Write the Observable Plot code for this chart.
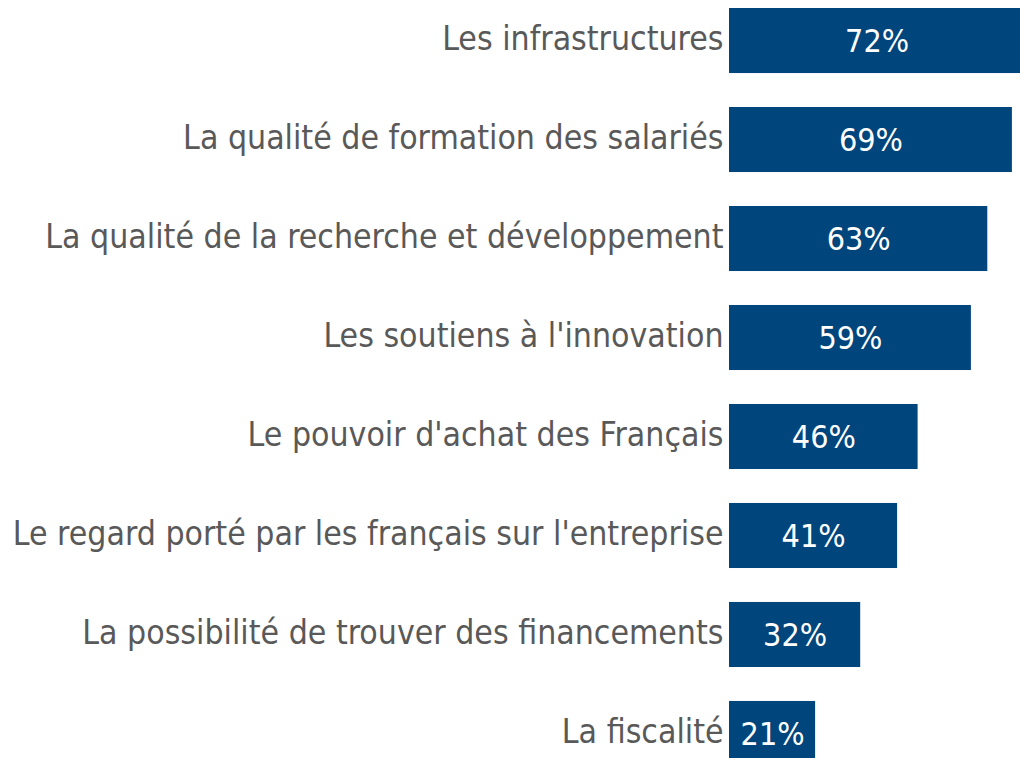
<!DOCTYPE html>
<html>
<head>
<meta charset="utf-8">
<script src="https://cdn.jsdelivr.net/npm/d3@7"></script>
<script src="https://cdn.jsdelivr.net/npm/@observablehq/plot@0.6"></script>
<style>
  html, body { margin: 0; padding: 0; background: #fff; overflow: hidden; }
  #chart svg { display: block; }
</style>
</head>
<body>
<div id="chart"></div>
<script>
const categories = [
  "Les infrastructures",
  "La qualité de formation des salariés",
  "La qualité de la recherche et développement",
  "Les soutiens à l'innovation",
  "Le pouvoir d'achat des Français",
  "Le regard porté par les français sur l'entreprise",
  "La possibilité de trouver des financements",
  "La fiscalité"
];
const values = [72, 69, 63, 59, 46, 41, 32, 21];

const data = categories.map((c, i) => ({category: c, value: values[i]}));

const chart = Plot.plot({
  width: 1020,
  height: 758,
  marginLeft: 729,
  marginRight: 0,
  marginTop: 0,
  marginBottom: 0,
  style: {fontFamily: "'DejaVu Sans Condensed', 'DejaVu Sans', sans-serif", background: "#fff"},
  x: {domain: [0, 100], range: [729, 729 + 410], axis: null},
  y: {domain: categories, range: [8, 766], paddingInner: 0.343, paddingOuter: 0, round: false, label: null},
  marks: [
    Plot.barX(data, {y: "category", x: "value", fill: "#00457C", clip: true}),
    Plot.text(data, {y: "category", x: d => d.value / 2, text: d => d.value + "%", fill: "#fff", fontSize: 32, textAnchor: "middle", dy: 1}),
    Plot.axisY({tickSize: 0, tickPadding: 6, fontSize: 33.5, color: "#595959", fill: "#595959", dy: -2})
  ]
});
document.getElementById("chart").appendChild(chart);
</script>
</body>
</html>
